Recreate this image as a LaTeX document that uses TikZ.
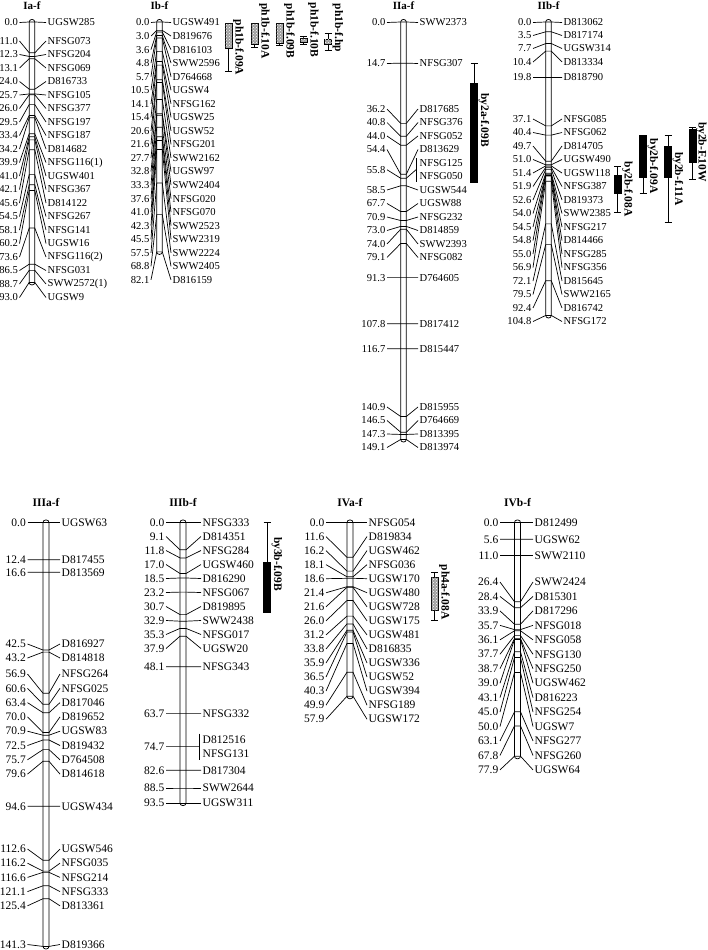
\documentclass[tikz,border=0pt]{standalone}
\usepackage{fontspec}
\setmainfont{Liberation Serif}
\usetikzlibrary{patterns}
\def\lblfont{\fontsize{10.6}{11}\selectfont}
\def\ttlfont{\fontsize{11}{12}\selectfont\bfseries}
\def\qoff{10}
\newcommand{\chromosome}[3]{%
  \draw[chrbar] ({\XB-\HW},{\YO-2.5}) rectangle ({\XB+\HW},{\YO+#2*\SC+2.5});
  \foreach \p/\ly/\mk [count=\i] in {#3}{
    \node[numlbl] (#1-n\i) at (\NR,\ly) {\p};
    \node[mklbl] (#1-m\i) at (\NL,\ly) {\mk};
    \draw[conn] (#1-n\i.east) -- ({\XB-\HW},{\YO+\p*\SC}) -- ({\XB+\HW},{\YO+\p*\SC}) -- (#1-m\i.west);
  }}
\newcommand{\qtl}[9]{% name, x, whisker top, whisker bottom, box top, box bottom, style, text y, text
  \draw[qtlw] (#2,#3) -- (#2,#4);
  \draw[qtlw] ({#2-3.5},#3) -- ({#2+3.5},#3);
  \draw[qtlw] ({#2-3.5},#4) -- ({#2+3.5},#4);
  \path[#7] ({#2-3.5},#5) rectangle ({#2+3.5},#6);
  \node[qtltxt] (#1) at ({#2+\qoff},#8) {#9};}
\begin{document}
\begin{tikzpicture}[x=1pt,y=-1pt,
  numlbl/.style={anchor=east, inner xsep=1.5pt, inner ysep=0pt, font=\lblfont},
  mklbl/.style={anchor=west, inner xsep=1.5pt, inner ysep=0pt, font=\lblfont},
  conn/.style={line width=0.7pt},
  chrbar/.style={draw, fill=white, line width=0.75pt, rounded corners=2.5pt},
  ttl/.style={font=\ttlfont, inner sep=0pt},
  qtlw/.style={line width=0.7pt},
  qtlby/.style={fill=black, draw=black, line width=0.6pt},
  qtlph/.style={fill=gray!75, draw=black, line width=0.6pt, postaction={pattern=crosshatch dots, pattern color=white}},
  qtltxt/.style={rotate=-90, font=\fontsize{11.5}{12}\selectfont\bfseries, inner sep=0pt}]
\useasboundingbox (0,0) rectangle (707,950);

% ================= top row =================
\def\YO{22}\def\SC{2.8}\def\HW{2.8}
% Ia-f
\def\XB{32}\def\NR{19.5}\def\NL{46}
\node[ttl] (Ia-t) at (\XB,6) {Ia-f};
\chromosome{Ia}{93.0}{0.0/22.5/UGSW285, 11.0/41/NFSG073, 12.3/54.5/NFSG204, 13.1/68/NFSG069,
 24.0/81.5/D816733, 25.7/95/NFSG105, 26.0/108.5/NFSG377, 29.5/122/NFSG197, 33.4/135.5/NFSG187,
 34.2/149/D814682, 39.9/162.5/NFSG116(1), 41.0/176/UGSW401, 42.1/189.5/NFSG367, 45.6/203/D814122,
 54.5/216.5/NFSG267, 58.1/230/NFSG141, 60.2/243.5/UGSW16, 73.6/257/NFSG116(2), 86.5/270.5/NFSG031,
 88.7/284/SWW2572(1), 93.0/297.5/UGSW9}

% Ib-f
\def\XB{159.5}\def\NR{151}\def\NL{171}
\node[ttl] (Ib-t) at (\XB,6) {Ib-f};
\chromosome{Ib}{82.1}{0.0/22.5/UGSW491, 3.0/36/D819676, 3.6/49.6/D816103, 4.8/63.1/SWW2596,
 5.7/76.7/D764668, 10.5/90.2/UGSW4, 14.1/103.8/NFSG162, 15.4/117.3/UGSW25, 20.6/130.9/UGSW52,
 21.6/144.4/NFSG201, 27.7/158/SWW2162, 32.8/171.5/UGSW97, 33.3/185.1/SWW2404, 37.6/198.6/NFSG020,
 41.0/212.2/NFSG070, 42.3/225.7/SWW2523, 45.5/239.3/SWW2319, 57.5/252.8/SWW2224, 68.8/266.4/SWW2405,
 82.1/279.9/D816159}
\qtl{q1}{228.5}{23}{71}{23}{48}{qtlph}{47.5}{ph1b-f.09A}
\qtl{q2}{254.5}{23}{47}{23}{44}{qtlph}{31}{ph1b-f.10A}
\qtl{q3}{279.5}{23}{45}{23}{43}{qtlph}{31}{ph1b-f.09B}
\qtl{q4}{303.5}{36}{44}{38}{42}{qtlph}{30}{ph1b-f.10B}
\qtl{q5}{328}{33}{50}{39}{44}{qtlph}{28}{ph1b-f.hp}

% IIa-f
\def\XB{403.5}\def\NR{387}\def\NL{418}
\node[ttl] (IIa-t) at (\XB,6) {IIa-f};
\chromosome{IIa}{149.1}{0.0/22.5/SWW2373, 14.7/63.5/NFSG307, 36.2/109/D817685, 40.8/122.5/NFSG376,
 44.0/136/NFSG052, 54.4/149.5/D813629, 58.5/190/UGSW544, 67.7/203.5/UGSW88, 70.9/217/NFSG232,
 73.0/230.5/D814859, 74.0/244/SWW2393, 79.1/257.5/NFSG082, 91.3/277.6/D764605, 107.8/323.8/D817412,
 116.7/348.8/D815447, 140.9/407/D815955, 146.5/420.5/D764669, 147.3/434/D813395, 149.1/447.5/D813974}
\node[numlbl] (IIa-n55) at (\NR,169.75) {55.8};
\node[mklbl] (IIa-m55a) at (\NL,163) {NFSG125};
\node[mklbl] (IIa-m55b) at (\NL,176.5) {NFSG050};
\coordinate (IIa-j) at ({\NL-2},169.75);
\draw[conn] (IIa-n55.east) -- ({\XB-\HW},{\YO+55.8*\SC}) -- ({\XB+\HW},{\YO+55.8*\SC}) -- (IIa-j);
\draw[conn] ({\NL-2},158) -- ({\NL-2},181.5);
\qtl{q6}{474}{63}{182}{83}{182}{qtlby}{120}{by2a-f.09B}

% IIb-f
\def\XB{548.5}\def\NR{533}\def\NL{562}
\node[ttl] (IIb-t) at (\XB,6) {IIb-f};
\chromosome{IIb}{104.8}{0.0/22.5/D813062, 3.5/35.5/D817174, 7.7/48.5/UGSW314, 10.4/62/D813334,
 19.8/77.5/D818790, 37.1/119/NFSG085, 40.4/132.5/NFSG062, 49.7/146/D814705, 51.0/159.5/UGSW490,
 51.4/173/UGSW118, 51.9/186.5/NFSG387, 52.6/200/D819373, 54.0/213.5/SWW2385, 54.5/227/NFSG217,
 54.8/240.5/D814466, 55.0/254/NFSG285, 56.9/267.5/NFSG356, 72.1/281/D815645, 79.5/294.5/SWW2165,
 92.4/308/D816742, 104.8/321.5/NFSG172}
\qtl{q7}{617.5}{166}{212}{175}{193}{qtlby}{189}{by2b-f.08A}
\qtl{q8}{643}{135}{193}{135}{177}{qtlby}{166}{by2b-f.09A}
\qtl{q9}{668}{135}{222}{146}{177}{qtlby}{179}{by2b-f.11A}
\def\qoff{8.8}
\qtl{q10}{692.5}{127}{179}{129}{162}{qtlby}{152}{by2b-F.10W}
\def\qoff{10}

% ================= bottom row =================
\def\lblfont{\fontsize{11.5}{12}\selectfont}
\def\ttlfont{\fontsize{11.5}{12}\selectfont\bfseries}
\def\YO{522.5}\def\SC{3.0}\def\HW{3}
% IIIa-f
\def\XB{46}\def\NR{27.5}\def\NL{60}
\node[ttl] (IIIa-t) at (\XB,503) {IIIa-f};
\chromosome{IIIa}{141.3}{0.0/522.5/UGSW63, 12.4/559.7/D817455, 16.6/572.3/D813569, 42.5/644/D816927,
 43.2/658/D814818, 56.9/674/NFSG264, 60.6/688.3/NFSG025, 63.4/702.6/D817046, 70.0/716.9/D819652,
 70.9/731.2/UGSW83, 72.5/745.5/D819432, 75.7/759.8/D764508, 79.6/774.1/D814618, 94.6/806.3/UGSW434,
 112.6/849/UGSW546, 116.2/863.2/NFSG035, 116.6/877.4/NFSG214, 121.1/891.6/NFSG333, 125.4/905.8/D813361,
 141.3/944.5/D819366}

% IIIb-f
\def\XB{183}\def\NR{166}\def\NL{201}
\node[ttl] (IIIb-t) at (\XB,503) {IIIb-f};
\chromosome{IIIb}{93.5}{0.0/522.5/NFSG333, 9.1/536.5/D814351, 11.8/550.5/NFSG284, 17.0/564.5/UGSW460,
 18.5/578.5/D816290, 23.2/592.5/NFSG067, 30.7/606.5/D819895, 32.9/620.5/SWW2438, 35.3/634.5/NFSG017,
 37.9/648.5/UGSW20, 48.1/666.8/NFSG343, 63.7/713.6/NFSG332, 82.6/770.3/D817304, 88.5/788/SWW2644,
 93.5/803/UGSW311}
\node[numlbl] (IIIb-n74) at (\NR,746.6) {74.7};
\node[mklbl] (IIIb-m74a) at (\NL,739.5) {D812516};
\node[mklbl] (IIIb-m74b) at (\NL,753.5) {NFSG131};
\coordinate (IIIb-j) at ({\NL-2},746.6);
\draw[conn] (IIIb-n74.east) -- ({\XB-\HW},{\YO+74.7*\SC}) -- ({\XB+\HW},{\YO+74.7*\SC}) -- (IIIb-j);
\draw[conn] ({\NL-2},733.5) -- ({\NL-2},760);
\qtl{q11}{267}{522}{612}{562}{612}{qtlby}{564}{by3b-f.09B}

% IVa-f
\def\XB{350}\def\NR{326}\def\NL{367}
\node[ttl] (IVa-t) at (\XB,503) {IVa-f};
\chromosome{IVa}{57.9}{0.0/522.5/NFSG054, 11.6/536.55/D819834, 16.2/550.6/UGSW462, 18.1/564.65/NFSG036,
 18.6/578.7/UGSW170, 21.4/592.75/UGSW480, 21.6/606.8/UGSW728, 26.0/620.85/UGSW175, 31.2/634.9/UGSW481,
 33.8/648.95/D816835, 35.9/663/UGSW336, 36.5/677.05/UGSW52, 40.3/691.1/UGSW394, 49.9/705.15/NFSG189,
 57.9/719.2/UGSW172}
\qtl{q12}{434.5}{572}{620}{577}{610}{qtlph}{592}{ph4a-f.08A}

% IVb-f
\def\XB{517.5}\def\NR{500}\def\NL{533}
\node[ttl] (IVb-t) at (\XB,503) {IVb-f};
\chromosome{IVb}{77.9}{0.0/522.5/D812499, 5.6/539.3/UGSW62, 11.0/555.5/SWW2110, 26.4/582/SWW2424,
 28.4/596.45/D815301, 33.9/610.9/D817296, 35.7/625.35/NFSG018, 36.1/639.8/NFSG058, 37.7/654.25/NFSG130,
 38.7/668.7/NFSG250, 39.0/683.15/UGSW462, 43.1/697.6/D816223, 45.0/712.05/NFSG254, 50.0/726.5/UGSW7,
 63.1/740.95/NFSG277, 67.8/755.4/NFSG260, 77.9/769.85/UGSW64}
\end{tikzpicture}
\end{document}
